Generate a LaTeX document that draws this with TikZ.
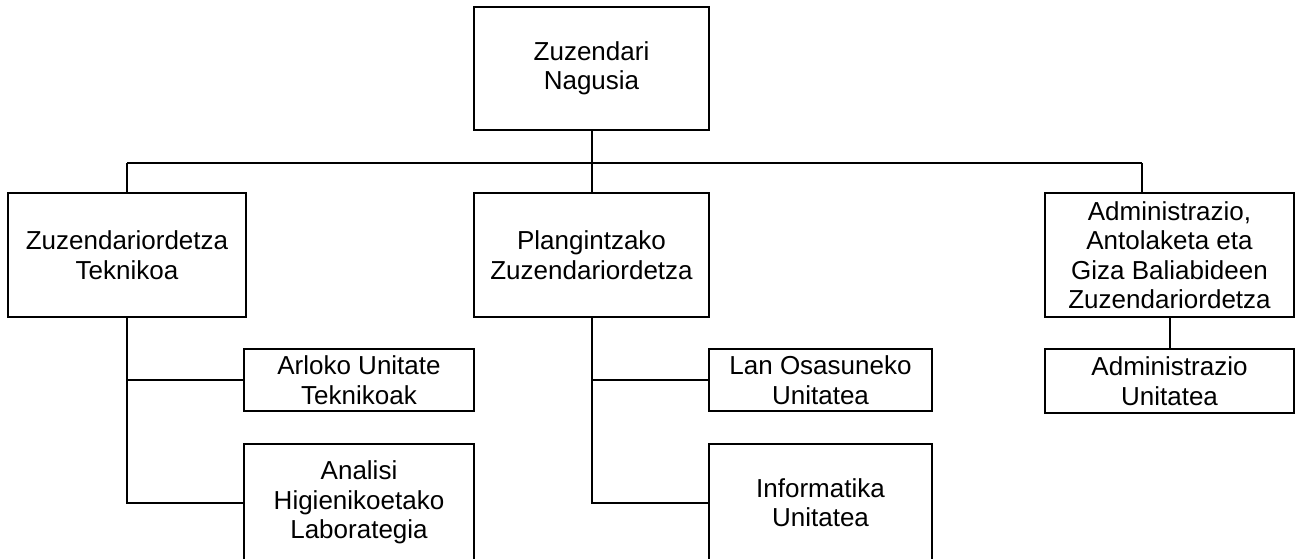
\documentclass[tikz,border=0pt]{standalone}
\usepackage{fontspec}
\setmainfont{Liberation Sans}
\begin{document}
\begin{tikzpicture}[x=1bp,y=-1bp,line width=2bp,
  box/.style={draw=black,line width=2bp,fill=white,rectangle,inner sep=0pt,align=center,
    font=\fontsize{26bp}{29.5bp}\selectfont},
  conn/.style={draw=black,line width=2bp}]
\fill[white] (0,0) rectangle (1300,559);
\useasboundingbox (0,0) rectangle (1300,559);
\node[box,minimum width=235bp,minimum height=123bp] (top) at (591.5,68.5) {Zuzendari\\Nagusia};
\node[box,minimum width=238bp,minimum height=124bp] (left) at (127,255) {Zuzendariordetza\\Teknikoa};
\node[box,minimum width=235bp,minimum height=124bp] (mid) at (591.5,255) {Plangintzako\\Zuzendariordetza};
\node[box,minimum width=249bp,minimum height=124bp] (right) at (1169.5,255) {Administrazio,\\Antolaketa eta\\Giza Baliabideen\\Zuzendariordetza};
\node[box,minimum width=230bp,minimum height=62bp] (arloko) at (359,380) {Arloko Unitate\\Teknikoak};
\node[box,minimum width=230bp,minimum height=117bp] (analisi) at (359,502.5) {Analisi\\Higienikoetako\\Laborategia};
\node[box,minimum width=223bp,minimum height=62bp] (lan) at (820.5,380) {Lan Osasuneko\\Unitatea};
\node[box,minimum width=223bp,minimum height=117bp] (info) at (820.5,502.5) {Informatika\\Unitatea};
\node[box,minimum width=249bp,minimum height=64bp] (adminU) at (1169.5,381) {Administrazio\\Unitatea};
\coordinate (busL) at (127,163);
\coordinate (busR) at (1142,163);
\draw[conn] (top.south) -- (mid.north);
\draw[conn] (busL) -- (busR);
\draw[conn] (busL) -- (left.north);
\draw[conn] (busR) -- (busR |- right.north);
\draw[conn] (right.south) -- (adminU.north);
\draw[conn] (left.south) |- (analisi.west);
\draw[conn] (left.south |- arloko.west) -- (arloko.west);
\draw[conn] (mid.south) |- (info.west);
\draw[conn] (mid.south |- lan.west) -- (lan.west);
\end{tikzpicture}
\end{document}
